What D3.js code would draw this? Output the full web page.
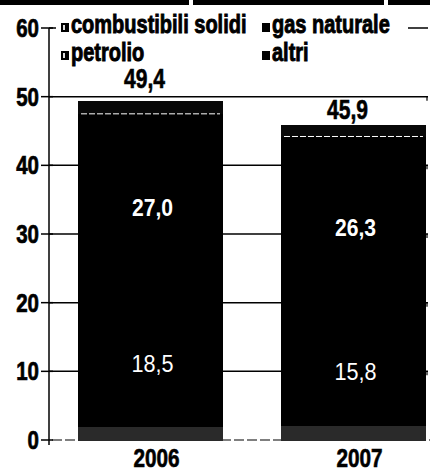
<!DOCTYPE html>
<html>
<head>
<meta charset="utf-8">
<script src="https://cdnjs.cloudflare.com/ajax/libs/d3/7.8.5/d3.min.js"></script>
<style>
body { margin: 0; background: #fff; }
svg { display: block; }
text { font-family: "Liberation Sans", Arial, sans-serif; }
</style>
</head>
<body>
<svg id="viz" width="430" height="472"></svg>
<script>
window.onload = run;

// data
var years = ["2006", "2007"];
var seriesNames = ["combustibili solidi", "gas naturale", "petrolio", "altri"];
var solidi = [2.0, 2.1];
var gas = [18.5, 15.8];
var petrolio = [27.0, 26.3];
var altri = [1.9, 1.7];
var totals = [49.4, 45.9];
var yTicks = [0, 10, 20, 30, 40, 50, 60];

var segColors = ["#2a2a2a", "#000", "#000", "#080808"];

function fmt(v){
    return v.toFixed(1).replace(".", ",");
}

// the print uses a condensed face: move x/y into a transform and squeeze horizontally
function squeeze(sel, f){
    sel.each(function(){
        var t = d3.select(this);
        var tx = +t.attr("x"), ty = +t.attr("y");
        t.attr("x", 0).attr("y", 0)
            .attr("transform", "translate(" + tx + "," + ty + ") scale(" + f + ",1)");
    });
}

function run(){
    var svg = d3.select("#viz");

    var x = d3.scaleBand()
        .domain(years)
        .range([49, 455])
        .paddingInner(0.2857)
        .paddingOuter(0.143);

    var y = d3.scaleLinear()
        .domain([0, 60])
        .range([440, 28]);

    // scanned header strip at the very top
    svg.append("rect").attr("x", 0).attr("y", 0).attr("width", 430).attr("height", 5).attr("fill", "#000");
    [189, 384].forEach(function(gx){
        svg.append("rect").attr("x", gx).attr("y", 0).attr("width", 4).attr("height", 5).attr("fill", "#fff");
    });

    // gridlines
    svg.selectAll(".grid")
        .data(yTicks.filter(function(d){ return d > 0; }))
        .enter()
        .append("line")
        .attr("class", "grid")
        .attr("x1", 49).attr("x2", 428)
        .attr("y1", function(d){ return y(d); })
        .attr("y2", function(d){ return y(d); })
        .attr("stroke", "#000")
        .attr("stroke-width", 1.5);

    // right end ticks
    svg.selectAll(".rtick")
        .data(yTicks.filter(function(d){ return d > 0 && d < 60; }))
        .enter()
        .append("line")
        .attr("class", "rtick")
        .attr("x1", 427).attr("x2", 427)
        .attr("y1", function(d){ return y(d); })
        .attr("y2", function(d){ return y(d) + 4; })
        .attr("stroke", "#000")
        .attr("stroke-width", 1.2);

    // baseline, rough dashed
    svg.append("line")
        .attr("x1", 52).attr("x2", 430)
        .attr("y1", y(0)).attr("y2", y(0))
        .attr("stroke", "#000")
        .attr("stroke-width", 1.2)
        .attr("stroke-dasharray", "10,3");

    // stacked bars
    var rows = years.map(function(yr, i){
        return { year: yr, solidi: solidi[i], gas: gas[i], petrolio: petrolio[i], altri: altri[i] };
    });
    var stack = d3.stack().keys(["solidi", "gas", "petrolio", "altri"]);
    var layers = stack(rows);

    svg.selectAll(".layer")
        .data(layers)
        .enter()
        .append("g")
        .attr("class", "layer")
        .attr("fill", function(d, i){ return segColors[i]; })
        .attr("shape-rendering", "crispEdges")
        .selectAll("rect")
        .data(function(d){ return d; })
        .enter()
        .append("rect")
        .attr("x", function(d){ return x(d.data.year); })
        .attr("width", x.bandwidth())
        .attr("y", function(d){ return y(d[1]); })
        .attr("height", function(d){ return y(d[0]) - y(d[1]) + 0.5; });

    // faint white seam between petrolio and altri
    svg.selectAll(".seam")
        .data(layers[2])
        .enter()
        .append("line")
        .attr("class", "seam")
        .attr("x1", function(d){ return x(d.data.year) + 3; })
        .attr("x2", function(d){ return x(d.data.year) + x.bandwidth() - 3; })
        .attr("y1", function(d){ return y(d[1]); })
        .attr("y2", function(d){ return y(d[1]); })
        .attr("stroke", "#fff")
        .attr("stroke-width", 1)
        .attr("stroke-dasharray", "6,2");

    // y axis
    svg.append("line")
        .attr("x1", 49).attr("x2", 49)
        .attr("y1", y(60)).attr("y2", y(0) + 5)
        .attr("stroke", "#000")
        .attr("stroke-width", 1.5);

    svg.selectAll(".ltick")
        .data(yTicks)
        .enter()
        .append("line")
        .attr("class", "ltick")
        .attr("x1", 41).attr("x2", 53)
        .attr("y1", function(d){ return y(d); })
        .attr("y2", function(d){ return y(d); })
        .attr("stroke", "#000")
        .attr("stroke-width", 1.5);

    svg.selectAll(".ylab")
        .data(yTicks)
        .enter()
        .append("text")
        .attr("class", "ylab")
        .attr("x", 39)
        .attr("y", function(d){ return y(d) + 9; })
        .attr("text-anchor", "end")
        .attr("font-size", 25)
        .attr("font-weight", "bold")
        .attr("stroke", "#000")
        .attr("stroke-width", 0.7)
        .text(function(d){ return d; })
        .call(squeeze, 0.82);

    // legend with white backing over the top gridline
    svg.append("rect")
        .attr("x", 56).attr("y", 12).attr("width", 352).attr("height", 58)
        .attr("fill", "#fff");

    var legendPos = [
        { x: 61, y: 33 }, { x: 262, y: 33 },
        { x: 61, y: 61 }, { x: 262, y: 61 }
    ];
    var markerInner = [true, false, true, false];

    var leg = svg.selectAll(".leg")
        .data(seriesNames)
        .enter()
        .append("g")
        .attr("class", "leg")
        .attr("transform", function(d, i){ return "translate(" + legendPos[i].x + "," + legendPos[i].y + ")"; });

    leg.append("rect")
        .attr("x", 0).attr("y", -10)
        .attr("width", 8).attr("height", 9)
        .attr("fill", "#000");

    leg.filter(function(d, i){ return markerInner[i]; })
        .append("rect")
        .attr("x", 2).attr("y", -8)
        .attr("width", 2).attr("height", 5)
        .attr("fill", "#ddd");

    leg.append("text")
        .attr("x", 10)
        .attr("y", 0)
        .attr("font-size", 25)
        .attr("font-weight", "bold")
        .attr("stroke", "#000")
        .attr("stroke-width", 0.9)
        .text(function(d){ return d; })
        .call(squeeze, 0.8);

    // totals above bars, lifted above a gridline when one would cross the text
    svg.selectAll(".tot")
        .data(years)
        .enter()
        .append("text")
        .attr("class", "tot")
        .attr("x", function(d){ return x(d) + x.bandwidth() / 2 - 6; })
        .attr("y", function(d, i){
            var base = y(totals[i]) - 6;
            var hit = yTicks.filter(function(t){ return y(t) > base - 20 && y(t) < base + 2; });
            return hit.length ? y(hit[0]) - 9 : base;
        })
        .attr("text-anchor", "middle")
        .attr("font-size", 27)
        .attr("font-weight", "bold")
        .attr("stroke", "#000")
        .attr("stroke-width", 0.6)
        .text(function(d, i){ return fmt(totals[i]); })
        .call(squeeze, 0.78);

    // labels inside gas and petrolio segments
    [1, 2].forEach(function(li){
        svg.selectAll(".in" + li)
            .data(layers[li])
            .enter()
            .append("text")
            .attr("class", "in" + li)
            .attr("x", function(d){ return x(d.data.year) + x.bandwidth() / 2 + 2; })
            .attr("y", function(d){ return (y(d[0]) + y(d[1])) / 2 + 9; })
            .attr("text-anchor", "middle")
            .attr("fill", "#fff")
            .attr("font-size", 24)
            .attr("font-weight", li === 2 ? "bold" : "normal")
            .text(function(d){ return fmt(d[1] - d[0]); })
            .call(squeeze, li === 2 ? 0.88 : 0.9);
    });

    // category labels
    svg.selectAll(".xlab")
        .data(years)
        .enter()
        .append("text")
        .attr("class", "xlab")
        .attr("x", function(d){ return x(d) + x.bandwidth() / 2 + 6; })
        .attr("y", 467)
        .attr("text-anchor", "middle")
        .attr("font-size", 25)
        .attr("font-weight", "bold")
        .attr("stroke", "#000")
        .attr("stroke-width", 0.6)
        .text(function(d){ return d; })
        .call(squeeze, 0.83);
}
</script>
</body>
</html>
